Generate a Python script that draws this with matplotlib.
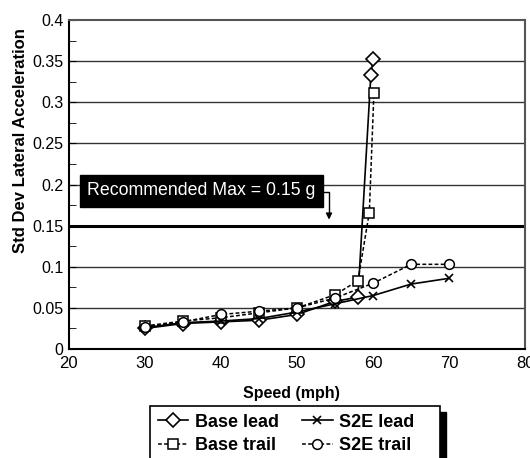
import matplotlib
matplotlib.use('Agg')
import matplotlib.pyplot as plt
from matplotlib.patches import Rectangle
from matplotlib.ticker import MultipleLocator

plt.rcParams['font.family'] = ['Liberation Sans', 'DejaVu Sans']

# data
base_lead_x = [30, 35, 40, 45, 50, 55, 58, 59.7, 60]
base_lead_y = [0.025, 0.031, 0.033, 0.035, 0.042, 0.058, 0.063, 0.333, 0.353]
base_trail_x = [30, 35, 40, 45, 50, 55, 58, 59.5, 60.1]
base_trail_y = [0.028, 0.034, 0.038, 0.044, 0.050, 0.066, 0.083, 0.166, 0.311]
s2e_lead_x = [30, 35, 40, 45, 50, 55, 60, 65, 70]
s2e_lead_y = [0.026, 0.032, 0.034, 0.037, 0.045, 0.055, 0.065, 0.079, 0.086]
s2e_trail_x = [30, 35, 40, 45, 50, 55, 60, 65, 70]
s2e_trail_y = [0.027, 0.033, 0.042, 0.046, 0.050, 0.062, 0.080, 0.103, 0.103]
rec_max = 0.15

fig = plt.figure(figsize=(5.3, 4.58), dpi=100)
ax = fig.add_axes([0.130, 0.238, 0.861, 0.718])

for y in [0.05, 0.1, 0.2, 0.25, 0.3, 0.35]:
    ax.axhline(y, color='#333333', lw=1.0, zorder=1)
ax.axhline(rec_max, color='black', lw=2.2, zorder=1)

ax.plot(base_lead_x, base_lead_y, '-', color='black', lw=1.2, marker='D',
        ms=6.8, mfc='white', mec='black', mew=1.2, label='Base lead', zorder=3)
ax.plot(base_trail_x, base_trail_y, '--', color='black', lw=1.1, dashes=(2.5, 1.5),
        marker='s', ms=6.5, mfc='white', mec='black', mew=1.1, label='Base trail', zorder=3)
ax.plot(s2e_lead_x, s2e_lead_y, '-', color='black', lw=1.2, marker='x',
        ms=6, mec='black', mew=1.2, label='S2E lead', zorder=3)
ax.plot(s2e_trail_x, s2e_trail_y, '--', color='black', lw=1.1, dashes=(2.5, 1.5),
        marker='o', ms=7, mfc='white', mec='black', mew=1.1, label='S2E trail', zorder=3)

ax.text(22.4, 0.1925, 'Recommended Max = 0.15 g', color='white', fontsize=12.8,
        va='center', ha='left',
        bbox=dict(boxstyle='square,pad=0.42', fc='black', ec='black'))
ax.plot([53.4, 54.2, 54.2], [0.1905, 0.1905, 0.162], color='black', lw=1.0)
ax.annotate('', xy=(54.2, 0.154), xytext=(54.2, 0.165),
            arrowprops=dict(arrowstyle='-|>', color='black', lw=1.0,
                            mutation_scale=9))

ax.set_xlim(20, 80)
ax.set_ylim(0, 0.4)
ax.set_xticks(range(20, 81, 10))
ax.set_yticks([0, 0.05, 0.1, 0.15, 0.2, 0.25, 0.3, 0.35, 0.4])
ax.set_yticklabels(['0', '0.05', '0.1', '0.15', '0.2', '0.25', '0.3', '0.35', '0.4'])
ax.yaxis.set_minor_locator(MultipleLocator(0.025))
ax.tick_params(axis='y', which='both', direction='in', length=5, labelsize=11.5, pad=4)
ax.tick_params(axis='x', direction='in', length=0, labelsize=12, pad=5)

for side in ['top', 'right']:
    ax.spines[side].set_color('#555555')
    ax.spines[side].set_linewidth(1.5)
ax.spines['left'].set_linewidth(1.5)
ax.spines['bottom'].set_linewidth(1.5)

ax.set_xlabel('Speed (mph)', fontsize=11.5, fontweight='bold')
ax.xaxis.set_label_coords(0.487, -0.112)
ax.set_ylabel('Std Dev Lateral Acceleration', fontsize=12, fontweight='bold', va='center')
ax.yaxis.set_label_coords(-0.105, 0.635)

# legend box with a solid drop shadow, runs off the bottom edge like the original
W, H = 530.0, 458.0
fig.patches.append(Rectangle(((150 + 6) / W, -0.05), 290 / W, (458 - 412) / H + 0.05,
                             transform=fig.transFigure, fc='black', ec='black', zorder=2))
fig.patches.append(Rectangle((150 / W, -0.05), 290 / W, (458 - 406) / H + 0.05,
                             transform=fig.transFigure, fc='white', ec='black', lw=1.2, zorder=3))

handles, labels = ax.get_legend_handles_labels()
leg = fig.legend(handles, labels,
                 ncol=2, loc='upper left', bbox_to_anchor=(0.283, 0.1135),
                 borderaxespad=0, frameon=False,
                 prop={'weight': 'bold', 'size': 13}, handlelength=1.7,
                 handletextpad=0.35, columnspacing=1.3, borderpad=0.42,
                 labelspacing=0.35, markerscale=1.0)
leg.set_zorder(5)

fig.savefig('out.png', dpi=100)
